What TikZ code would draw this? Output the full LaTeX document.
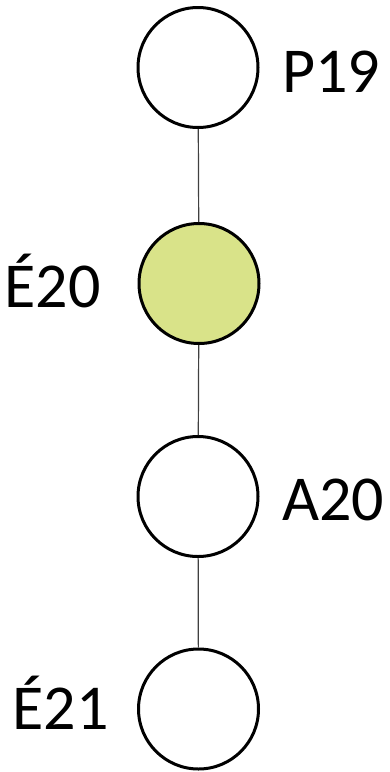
\documentclass[tikz,border=0pt]{standalone}
\usepackage{fontspec}
\setmainfont{Carlito}
\definecolor{pale}{RGB}{217,227,137}
\begin{document}
\begin{tikzpicture}[x=1pt, y=-1pt,
    term/.style={circle, draw, line width=3pt, minimum size=120pt, inner sep=0pt, fill=white},
    tag/.style={inner sep=0pt, font=\fontsize{64}{72}\selectfont}]
      \useasboundingbox (0, 0) rectangle (390, 772);
      \node [term] (p19) at (198, 67.5) {};
      \node [term, fill=pale] (e20) at (199, 283.5) {};
      \node [term] (a20) at (198, 496.5) {};
      \node [term] (e21) at (198.5, 709) {};
      \draw [line width=1.2pt, black!75] (p19) -- (e20) -- (a20) -- (e21);
      \node [tag, anchor = base west] (lp19) at (282, 92) {P19};
      \node [tag, anchor = base east] (le20) at (101, 307) {É20};
      \node [tag, anchor = base west] (la20) at (282, 520) {A20};
      \node [tag, anchor = base east] (le21) at (109, 729) {É21};
    \end{tikzpicture}
\end{document}
